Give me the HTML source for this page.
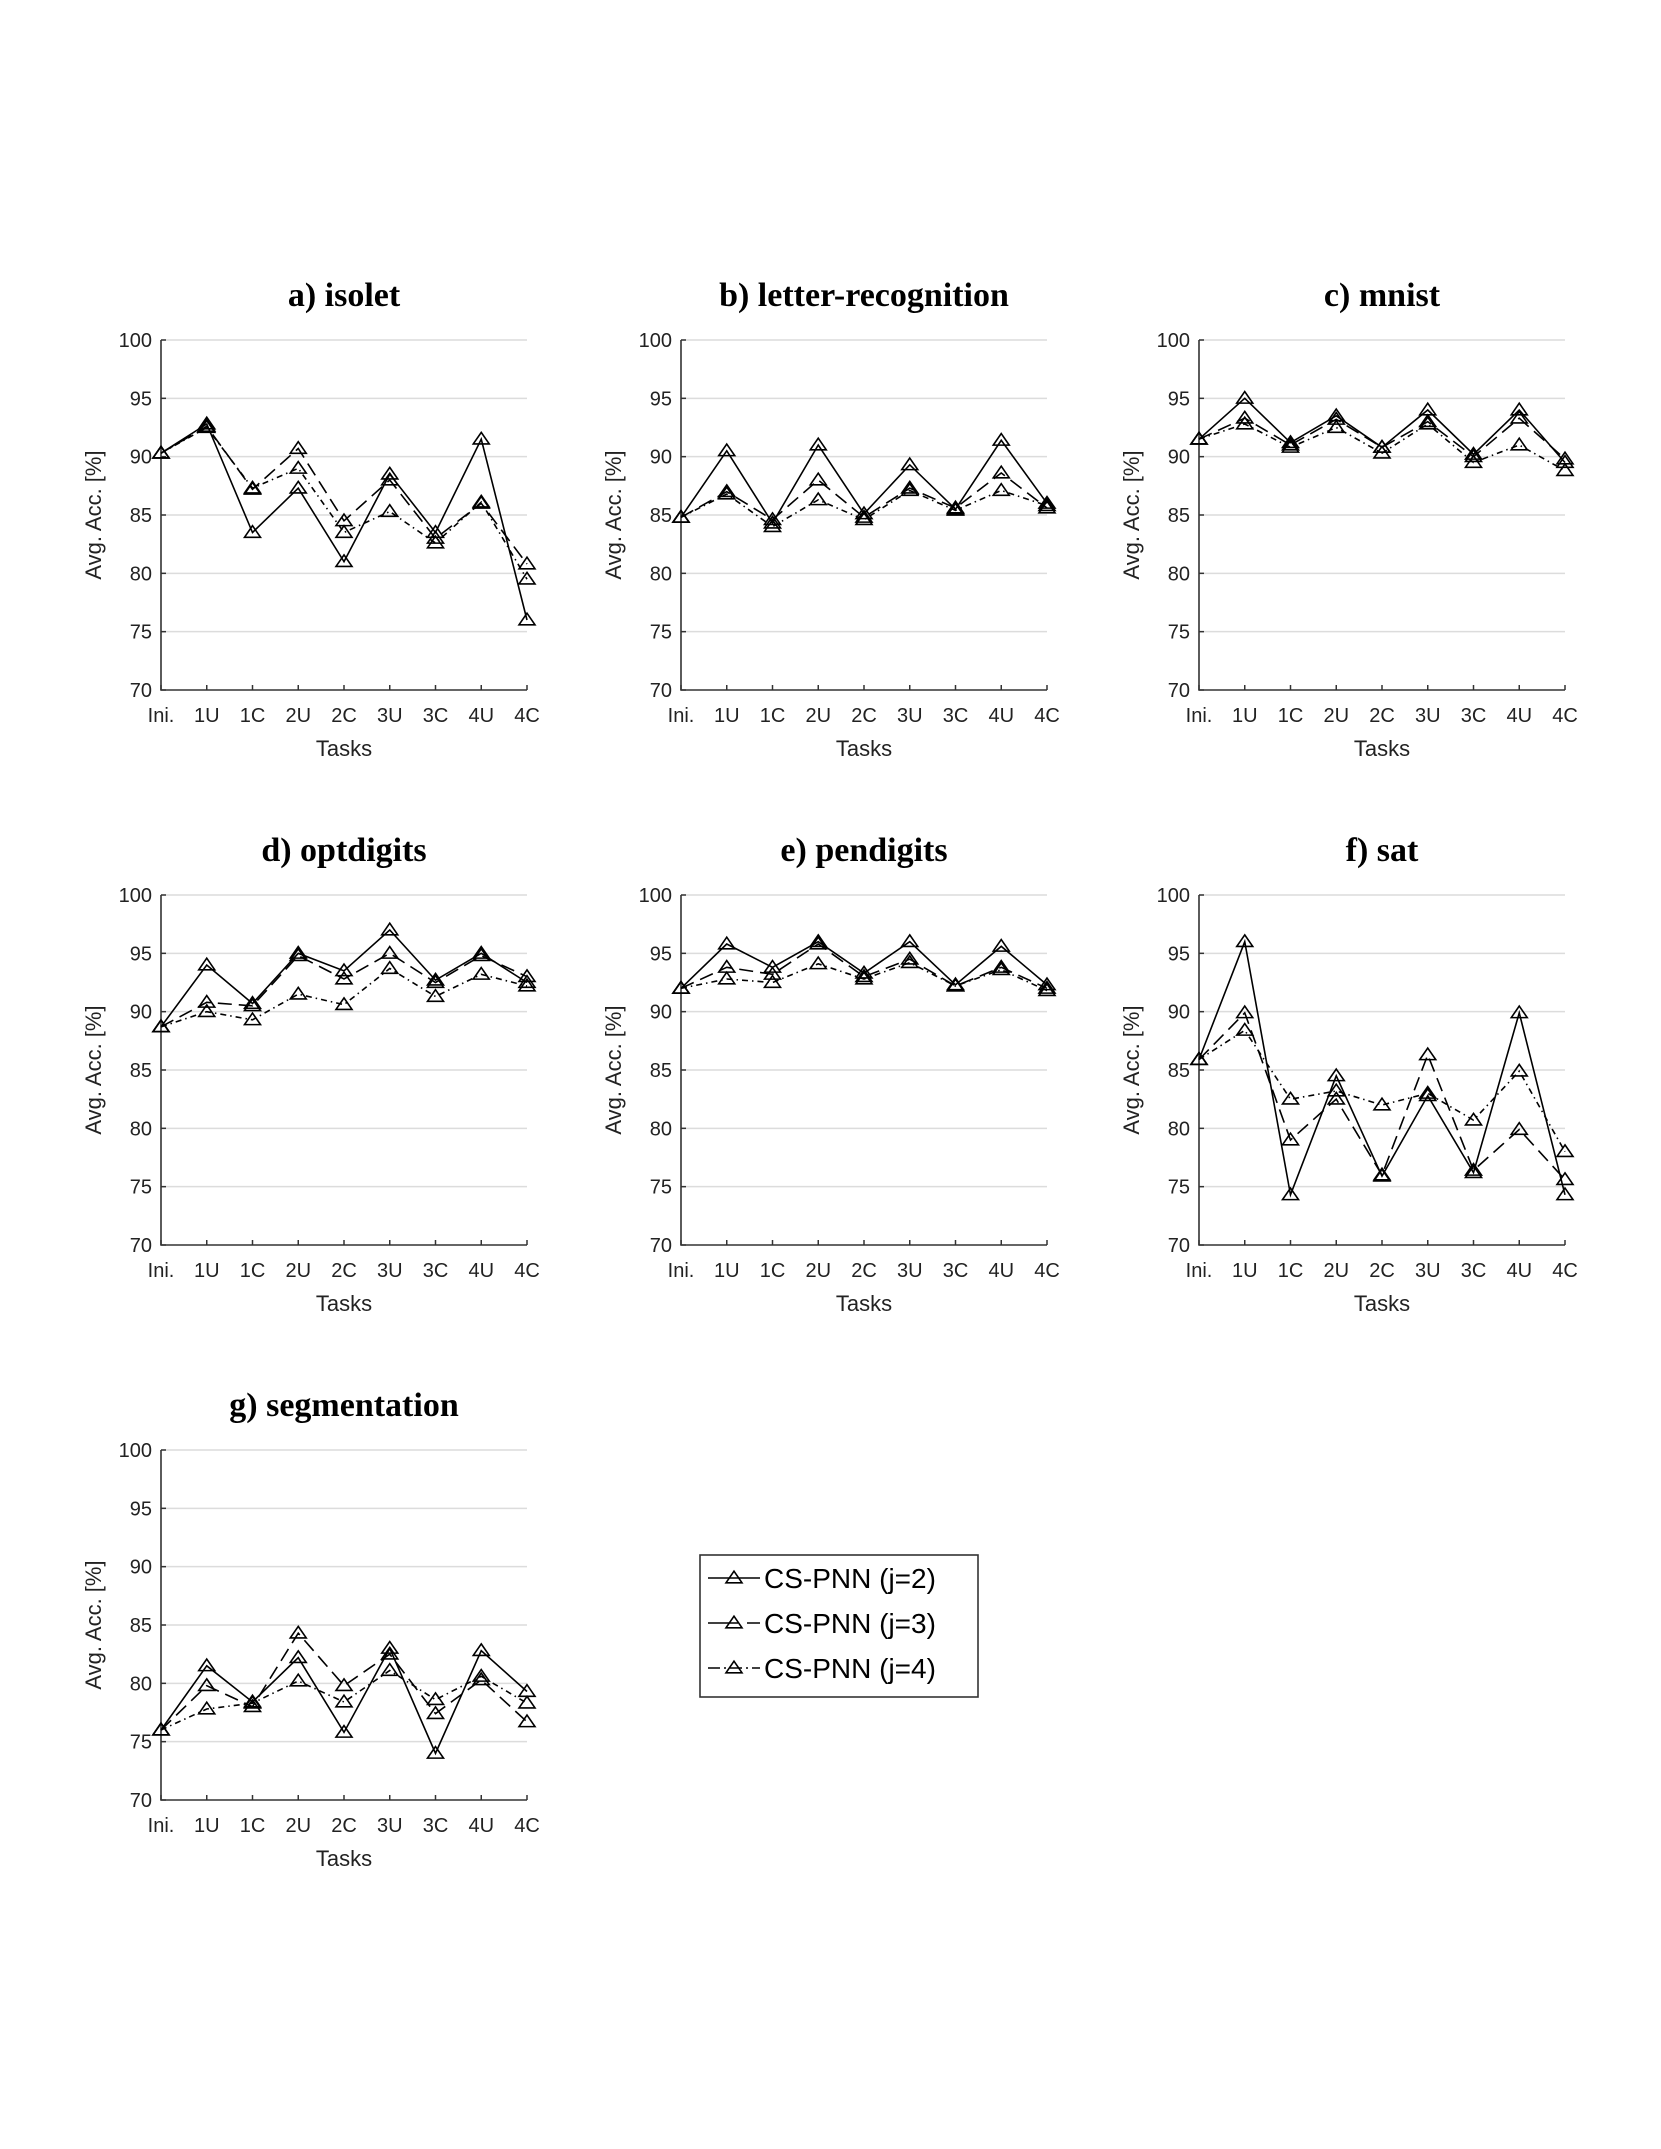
<!DOCTYPE html>
<html><head><meta charset="utf-8"><style>
body{margin:0;background:#fff;}
svg{display:block;}
</style></head><body>
<svg id="fig" width="1661" height="2149" xmlns="http://www.w3.org/2000/svg"></svg>
<script>
const categories = ["Ini.","1U","1C","2U","2C","3U","3C","4U","4C"];
const yTicks = [70,75,80,85,90,95,100];
const seriesNames = ["CS-PNN (j=2)","CS-PNN (j=3)","CS-PNN (j=4)"];
const panelTitles = ["a) isolet","b) letter-recognition","c) mnist","d) optdigits","e) pendigits","f) sat","g) segmentation"];
const isoletJ2 = [90.3,92.8,83.5,87.3,81.0,88.5,83.5,91.5,76.0];
const isoletJ3 = [90.3,92.6,87.2,90.7,84.5,88.0,83.0,86.0,80.8];
const isoletJ4 = [90.3,92.5,87.3,89.0,83.5,85.3,82.6,86.1,79.5];
const letterJ2 = [84.8,90.5,84.3,91.0,85.1,89.3,85.5,91.4,86.0];
const letterJ3 = [84.8,87.0,84.6,88.0,84.8,87.3,85.6,88.6,85.6];
const letterJ4 = [84.8,86.8,84.0,86.3,84.6,87.1,85.4,87.1,85.8];
const mnistJ2 = [91.5,95.0,91.2,93.5,90.8,94.0,90.2,94.0,89.5];
const mnistJ3 = [91.5,93.3,91.0,93.2,90.8,93.0,90.0,93.3,89.8];
const mnistJ4 = [91.5,92.8,90.8,92.5,90.3,92.8,89.5,91.0,88.8];
const optJ2 = [88.7,94.0,90.7,95.0,93.5,97.0,92.7,95.0,92.5];
const optJ3 = [88.7,90.8,90.5,94.8,92.8,95.0,92.5,94.8,93.0];
const optJ4 = [88.7,90.0,89.3,91.5,90.6,93.7,91.3,93.2,92.2];
const penJ2 = [92.0,95.8,93.8,96.0,93.3,96.0,92.3,95.6,92.3];
const penJ3 = [92.0,93.8,93.2,95.8,93.0,94.5,92.2,93.8,92.0];
const penJ4 = [92.0,92.8,92.5,94.1,92.8,94.2,92.2,93.6,91.8];
const satJ2 = [85.9,96.0,74.3,84.5,75.9,82.8,76.2,89.9,74.3];
const satJ3 = [85.9,89.9,79.0,82.5,76.0,86.3,76.4,79.9,75.6];
const satJ4 = [85.9,88.4,82.5,83.2,82.0,83.0,80.7,84.9,78.0];
const segJ2 = [76.0,81.5,78.4,82.2,75.8,83.0,74.0,82.8,79.3];
const segJ3 = [76.0,79.8,78.0,84.3,79.8,82.5,77.4,80.3,76.7];
const segJ4 = [76.0,77.8,78.3,80.2,78.4,81.1,78.6,80.6,78.3];

const panelData = [
 [isoletJ2,isoletJ3,isoletJ4],[letterJ2,letterJ3,letterJ4],[mnistJ2,mnistJ3,mnistJ4],
 [optJ2,optJ3,optJ4],[penJ2,penJ3,penJ4],[satJ2,satJ3,satJ4],[segJ2,segJ3,segJ4]];

const NS="http://www.w3.org/2000/svg";
const svg=document.getElementById('fig');
function mk(tag,attrs,parent){const e=document.createElementNS(NS,tag);for(const k in attrs)e.setAttribute(k,attrs[k]);(parent||svg).appendChild(e);return e;}
const dashes=["none","14,7","6,4,1.5,4"];
const colX=[161,681,1199], rowY=[340,895,1450], W=366, H=350;
function tri(g,x,y,s){
  return mk('path',{d:`M${x},${y-s*0.85} L${x+s},${y+s*0.6} L${x-s},${y+s*0.6} Z`,fill:'none',stroke:'#000','stroke-width':1.6},g);
}
panelTitles.forEach((title,p)=>{
  const L=colX[p%3], T=rowY[Math.floor(p/3)];
  const xs=i=>L+i*W/(categories.length-1);
  const ys=v=>T+H-(v-70)/30*H;
  const g=mk('g',{});
  
  
  const t=mk('text',{x:L+W/2,y:T-34,'text-anchor':'middle','font-family':'Liberation Serif, serif','font-weight':'bold','font-size':34,fill:'#000'},g);
  t.textContent=title;
  
  
  yTicks.forEach(v=>{
    if(v>70){mk('line',{x1:L,x2:L+W,y1:ys(v),y2:ys(v),stroke:'#dcdcdc','stroke-width':1.5},g);}
    mk('line',{x1:L,x2:L+5,y1:ys(v),y2:ys(v),stroke:'#333','stroke-width':1.5},g);
    const tl=mk('text',{x:L-9,y:ys(v)+7,'text-anchor':'end','font-family':'Liberation Sans, sans-serif','font-size':20,fill:'#222'},g);
    tl.textContent=v;
    
    
  });
  categories.forEach((c,i)=>{
    mk('line',{x1:xs(i),x2:xs(i),y1:T+H,y2:T+H-5,stroke:'#333','stroke-width':1.5},g);
    const tl=mk('text',{x:xs(i),y:T+H+32,'text-anchor':'middle','font-family':'Liberation Sans, sans-serif','font-size':20,fill:'#222'},g);
    tl.textContent=c;
    
    
  });
  mk('path',{d:`M${L},${T} L${L},${T+H} L${L+W},${T+H}`,fill:'none',stroke:'#333','stroke-width':1.6},g);
  const xt=mk('text',{x:L+W/2,y:T+H+66,'text-anchor':'middle','font-family':'Liberation Sans, sans-serif','font-size':22,fill:'#222'},g);
  xt.textContent='Tasks';
  
  
  const yt=mk('text',{x:0,y:0,transform:`translate(${L-60},${T+H/2}) rotate(-90)`,'text-anchor':'middle','font-family':'Liberation Sans, sans-serif','font-size':22,fill:'#222'},g);
  yt.textContent='Avg. Acc. [%]';
  
  
  panelData[p].forEach((vals,s)=>{
    const sg=mk('g',{},g);
    
    
    const pts=vals.map((v,i)=>xs(i)+','+ys(v)).join(' ');
    const a={points:pts,fill:'none',stroke:'#000','stroke-width':1.6};
    if(dashes[s]!=='none')a['stroke-dasharray']=dashes[s];
    mk('polyline',a,sg);
    vals.forEach((v,i)=>{tri(sg,xs(i),ys(v),8);});
  });
});
// legend
const lg=mk('g',{});


mk('rect',{x:700,y:1555,width:278,height:142,fill:'#fff',stroke:'#333','stroke-width':1.6},lg);
seriesNames.forEach((n,s)=>{
  const y=1578+s*45;
  const eg=mk('g',{},lg);
  
  
  const a={x1:708,x2:760,y1:y,y2:y,stroke:'#000','stroke-width':1.6};
  if(dashes[s]!=='none')a['stroke-dasharray']=s===1?'30,9':'12,4,2,4';
  mk('line',a,eg);
  tri(eg,734,y,8);
  const tx=mk('text',{x:764,y:y+10,'font-family':'Liberation Sans, sans-serif','font-size':28,fill:'#000'},eg);
  tx.textContent=n;
});
</script>
</body></html>
